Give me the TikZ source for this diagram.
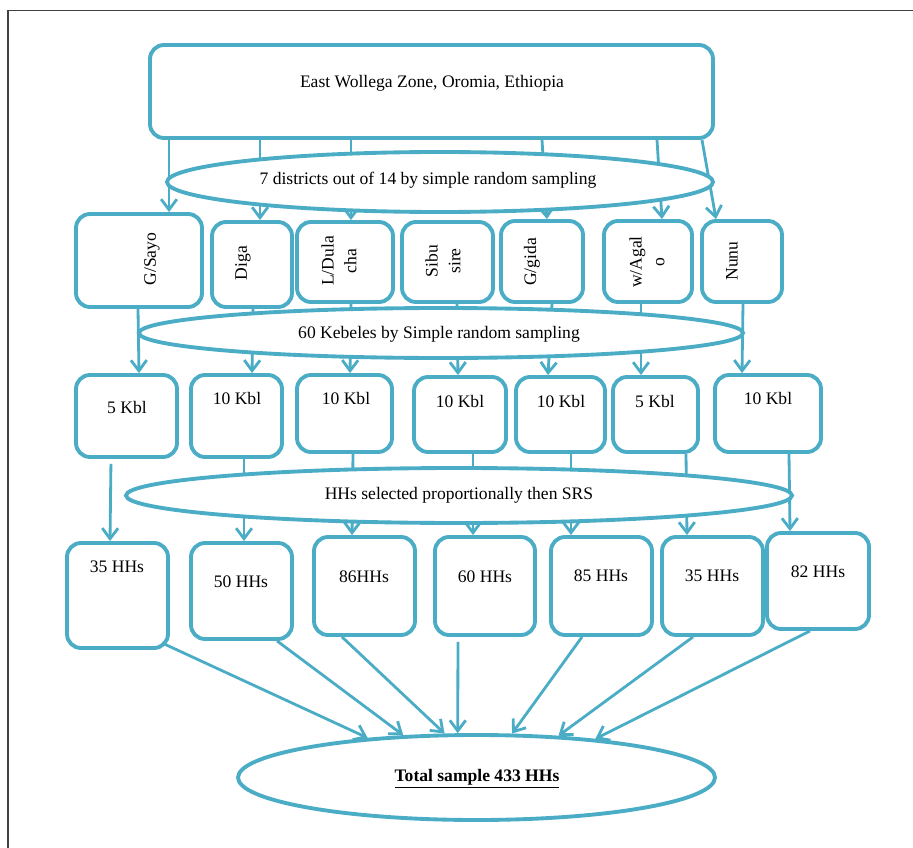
\documentclass[tikz,border=0pt]{standalone}
\usepackage{fontspec}
\setmainfont{Liberation Serif}
\usetikzlibrary{shapes.geometric, arrows.meta}
\definecolor{aqua}{RGB}{75, 172, 198}
\tikzset{
    rbox/.style={draw=aqua, rectangle, rounded corners=0.28cm, line width=2.2pt, inner sep=0pt},
    oval/.style={draw=aqua, ellipse, fill=white, line width=2.2pt, inner sep=0pt},
    sz/.style 2 args={minimum width=#1*0.02cm, minimum height=#2*0.02cm},
    conn/.style={-{Straight Barb[length=6pt, width=9pt]}, aqua, line width=1.6pt},
    lbl/.style={font=\fontsize{10}{13}\selectfont, inner sep=0pt, align=center},
    vlbl/.style={lbl, rotate=90},
}

\begin{document}
\begin{tikzpicture}[x=0.02cm, y=-0.02cm]
    \useasboundingbox (0,0) rectangle (913,848);
    \draw[black!75, line width=0.6pt] (913,10.5) -- (8,10.5) -- (8,848);

    % zone and districts
    \node[rbox, sz={563}{93}] (zone) at (431.5,91.5) {};
    \node[rbox, sz={126}{93}] (gsayo) at (139,260.5) {};
    \node[rbox, sz={80}{85}] (diga) at (252,264.5) {};
    \node[rbox, sz={96}{80}] (ldula) at (345,262) {};
    \node[rbox, sz={91}{80}] (sibu) at (447.5,262) {};
    \node[rbox, sz={82}{81}] (ggida) at (542,261.5) {};
    \node[rbox, sz={88}{81}] (wagalo) at (648,261.5) {};
    \node[rbox, sz={80}{81}] (nunu) at (742,261.5) {};

    % kebeles
    \node[rbox, sz={101}{82}] (k1) at (126.5,416) {};
    \node[rbox, sz={91}{82}] (k2) at (236.5,416) {};
    \node[rbox, sz={95}{77}] (k3) at (344.5,413.5) {};
    \node[rbox, sz={92}{75}] (k4) at (460,414.5) {};
    \node[rbox, sz={89}{75}] (k5) at (560.5,414.5) {};
    \node[rbox, sz={85}{75}] (k6) at (655.5,414.5) {};
    \node[rbox, sz={106}{77}] (k7) at (768,413.5) {};

    % households
    \node[rbox, sz={101}{105}] (h1) at (117.5,595.5) {};
    \node[rbox, sz={101}{96}] (h2) at (241.5,591) {};
    \node[rbox, sz={101}{98}] (h3) at (364.5,586) {};
    \node[rbox, sz={100}{98}] (h4) at (485,586) {};
    \node[rbox, sz={101}{98}] (h5) at (601.5,586) {};
    \node[rbox, sz={101}{98}] (h6) at (712.5,586) {};
    \node[rbox, sz={102}{96}] (h7) at (818,581) {};

    \node[oval, sz={477}{85}] (total) at (476.5,777.5) {};

    % zone -> districts
    \draw[conn] (zone.south -| 169,0) -- (gsayo.north -| 169,0);
    \draw[conn] (zone.south -| 260,0) -- (diga.north -| 260,0);
    \draw[conn] (zone.south -| 351,0) -- (ldula.north -| 351,0);
    \draw[conn] (zone.south -| 542,0) -- (ggida.north -| 547,0);
    \draw[conn] (zone.south -| 657,0) -- (wagalo.north -| 662,0);
    \draw[conn] (zone.south -| 702,0) -- (nunu.north -| 716,0);

    % districts -> kebeles
    \draw[conn] (gsayo.south -| 138,0) -- (k1.north -| 139,0);
    \draw[conn] (diga.south -| 253,0) -- (k2.north -| 252,0);
    \draw[conn] (ldula.south -| 351,0) -- (k3.north -| 350,0);
    \draw[conn] (sibu.south -| 457,0) -- (k4.north -| 458,0);
    \draw[conn] (ggida.south -| 552,0) -- (k5.north -| 548,0);
    \draw[conn] (wagalo.south -| 641,0) -- (k6.north -| 641,0);
    \draw[conn] (nunu.south -| 743,0) -- (k7.north -| 742,0);

    % kebeles -> households
    \draw[conn, shorten <=0.1cm] (k1.south -| 111,0) -- (h1.north -| 110,0);
    \draw[conn] (k2.south -| 244,0) -- (h2.north -| 244,0);
    \draw[conn] (k3.south -| 353,0) -- (h3.north -| 352,0);
    \draw[conn] (k4.south -| 473,0) -- (h4.north -| 473,0);
    \draw[conn] (k5.south -| 571,0) -- (h5.north -| 571,0);
    \draw[conn] (k6.south -| 686,0) -- (h6.north -| 687,0);
    \draw[conn] (k7.south -| 789,0) -- (h7.north -| 790,0);

    % households -> total
    \draw[conn] ([shift={(-8,-7)}]h1.south east) -- (total.160);
    \draw[conn] (h2.south -| 277,0) -- (total.150);
    \draw[conn] (h3.south -| 342,0) -- (total.126);
    \draw[conn, shorten <=0.1cm] (h4.south -| 458,0) -- (total.113);
    \draw[conn] (h5.south -| 582,0) -- (total.51);
    \draw[conn] (h6.south -| 693,0) -- (total.27);
    \draw[conn] (h7.south -| 810,0) -- (total.18);

    % sampling stages
    \node[oval, sz={546}{60}] (stage1) at (440,182) {};
    \node[oval, sz={604}{50}] (stage2) at (441,333) {};
    \node[oval, sz={666}{55}] (stage3) at (459,495.5) {};

    % texts
    \node[lbl] (zonet) at (432,83.5) {East Wollega Zone, Oromia, Ethiopia};
    \node[lbl] (stage1t) at (428,180) {7 districts out of 14 by simple random sampling};
    \node[lbl] (stage2t) at (439,334) {60 Kebeles by Simple random sampling};
    \node[lbl] (stage3t) at (459,495) {HHs selected proportionally then SRS};
    \node[lbl] (totalt) at (477,779) {\underline{\textbf{Total sample 433 HHs}}};

    \node[vlbl] (gsayot) at (152,259) {G/Sayo};
    \node[vlbl] (digat) at (243,263) {Diga};
    \node[vlbl] (ldulat) at (339,261) {L/Dula\\cha};
    \node[vlbl] (sibut) at (443,261) {Sibu\\sire};
    \node[vlbl] (ggidat) at (532,262) {G/gida};
    \node[vlbl] (wagalot) at (647,262) {w/Agal\\o};
    \node[vlbl] (nunut) at (732,261) {Nunu};

    \node[lbl] (k1t) at (127,407) {5 Kbl};
    \node[lbl] (k2t) at (237,398) {10 Kbl};
    \node[lbl] (k3t) at (346,398) {10 Kbl};
    \node[lbl] (k4t) at (460,401) {10 Kbl};
    \node[lbl] (k5t) at (561,401) {10 Kbl};
    \node[lbl] (k6t) at (655,401) {5 Kbl};
    \node[lbl] (k7t) at (768,398) {10 Kbl};

    \node[lbl] (h1t) at (117,567) {35 HHs};
    \node[lbl] (h2t) at (241,582) {50 HHs};
    \node[lbl] (h3t) at (364,577) {86HHs};
    \node[lbl] (h4t) at (485,577) {60 HHs};
    \node[lbl] (h5t) at (601,576) {85 HHs};
    \node[lbl] (h6t) at (712,576) {35 HHs};
    \node[lbl] (h7t) at (818,572) {82 HHs};
\end{tikzpicture}
\end{document}
